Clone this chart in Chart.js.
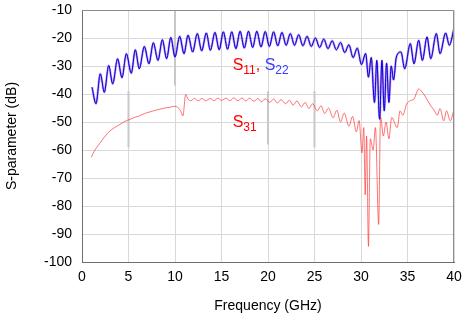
<!DOCTYPE html>
<html>
<head>
<meta charset="utf-8">
<script src="https://cdn.jsdelivr.net/npm/chart.js@4"></script>
<style>
  html, body { margin: 0; padding: 0; background: #fff; }
  #wrap { width: 470px; height: 319px; position: relative; }
</style>
</head>
<body>
<div id="wrap"><canvas id="chart"></canvas></div>
<script>
// ── Data ──────────────────────────────────────────────────────────
const xTicks = [0, 5, 10, 15, 20, 25, 30, 35, 40];
const yTicks = [-100, -90, -80, -70, -60, -50, -40, -30, -20, -10];

// S11 / S22 (reflection) — peaks and troughs, GHz / dB
const freqRefl = [
  1.08, 1.5, 1.97, 2.4, 2.87, 3.3, 3.83, 4.3, 4.77, 5.3, 5.73, 6.16, 6.7, 7.2, 7.67, 8.17,
  8.64, 9.1, 9.55, 10.0, 10.5, 10.97, 11.4, 11.9, 12.4, 12.87, 13.37, 13.8, 14.3, 14.75,
  15.2, 15.65, 16.1, 16.55, 17.0, 17.45, 17.9, 18.35, 18.8, 19.25, 19.7, 20.15, 20.6,
  21.05, 21.5, 21.95, 22.4, 22.85, 23.3, 23.75, 24.2, 24.65, 25.1, 25.55, 26.0, 26.45,
  26.9, 27.35, 27.8, 28.25, 28.7, 29.15, 29.6, 30.05, 30.5, 30.8, 31.1, 31.45, 31.7,
  32.0, 32.25, 32.5, 32.75, 33.0, 33.25, 33.5, 33.8, 34.3, 34.7, 35.3, 35.7, 36.2, 36.6,
  37.1, 37.5, 38.1, 38.5, 39.1, 39.5, 40.0
];
const s22 = [
  -37.6, -43.5, -32.8, -39.4, -29.8, -36.4, -27.4, -34.2, -25.6, -32.6, -24.2, -31.0, -23.0, -29.2, -21.7, -28.0,
  -20.6, -27.4, -19.8, -26.8, -19.4, -25.6, -19.0, -25.0, -18.4, -24.6, -18.2, -24.4, -18.0, -24.2,
  -17.8, -24.0, -17.8, -23.8, -17.6, -23.6, -17.6, -23.4, -17.6, -23.2, -17.7, -23.0, -17.8,
  -22.8, -18.0, -22.6, -18.4, -22.6, -18.8, -22.8, -19.4, -23.0, -20.0, -23.4, -20.4, -23.8,
  -21.0, -24.2, -21.6, -25.2, -22.4, -27.0, -23.6, -29.5, -25.5, -34.0, -27.0, -43.0, -28.0,
  -49.0, -28.0, -46.0, -29.0, -43.0, -30.0, -35.0, -26.8, -25.0, -31.0, -22.0, -29.2, -20.8, -28.0,
  -19.6, -27.4, -18.4, -25.6, -18.2, -22.6, -16.6
];
const s11 = s22;

// S31 (transmission)
const freqS31 = [
  1.0, 1.3, 1.6, 1.94, 2.5, 3.0, 3.5, 4.1, 4.6, 5.2, 5.7, 6.2, 6.7, 7.3, 7.8, 8.4, 8.9, 9.5, 9.9,
  10.3, 10.6, 10.85, 11.15, 11.4, 11.7, 12.1, 12.5, 12.9, 13.3, 13.8, 14.2, 14.6, 15.0, 15.5,
  15.9, 16.3, 16.8, 17.2, 17.6, 18.0, 18.5, 18.9, 19.3, 19.7, 20.2, 20.6, 21.0, 21.4, 21.9,
  22.3, 22.7, 23.1, 23.6, 24.0, 24.4, 24.8, 25.3, 25.7, 26.1, 26.5, 27.0, 27.4, 27.8, 28.2,
  28.7, 29.1, 29.5, 29.8, 30.1, 30.3, 30.45, 30.6, 30.8, 31.0, 31.3, 31.55, 31.9, 32.1, 32.4,
  32.7, 33.0, 33.3, 33.9, 34.2, 34.5, 34.9, 35.3, 35.7, 36.2, 36.6, 37.0, 37.5, 37.9, 38.2,
  38.5, 38.9, 39.2, 39.6, 40.0
];
const s31 = [
  -62.6, -60.5, -59.0, -57.5, -55.0, -53.2, -52.0, -50.8, -49.8, -49.0, -48.3, -47.8, -47.0, -46.4, -45.9, -45.4, -45.0, -44.7, -44.4,
  -44.8, -46.0, -47.8, -40.2, -41.8, -42.4, -41.6, -42.4, -41.6, -42.4, -41.6, -42.4, -41.5, -42.3, -41.5,
  -42.4, -41.4, -42.4, -41.4, -42.5, -41.5, -42.6, -41.6, -42.8, -41.7, -43.0, -41.8, -43.2, -42.0, -43.5,
  -42.2, -44.0, -42.5, -44.6, -43.0, -45.2, -43.5, -46.0, -44.2, -47.0, -45.0, -48.5, -45.8, -50.0, -46.8,
  -51.5, -48.0, -53.5, -49.5, -61.0, -52.0, -76.0, -55.0, -94.4, -56.0, -60.0, -52.0, -86.6, -48.0, -55.0,
  -50.0, -56.0, -48.4, -52.0, -46.0, -47.6, -43.6, -42.4, -41.8, -38.2, -39.4, -41.4, -44.2, -46.0, -47.6,
  -45.2, -49.6, -46.0, -49.6, -45.4
];

// stray grey rules in the original plot (x, top, bottom)
const ruleX   = [5, 10, 20, 25, 40];
const ruleTop = [-39, -10, -39, -39, -39];
const ruleBot = [-59, -37, -58, -59, -59];

const toPts = (xs, ys) => xs.map((x, i) => ({ x, y: ys[i] }));
const rulePts = [];
ruleX.forEach((x, i) => {
  rulePts.push({ x, y: ruleTop[i] }, { x, y: ruleBot[i] }, { x, y: null });
});

// ── Labels drawn inside the plot ──────────────────────────────────
const curveLabels = [
  { x: 16.2, y: -29.8, parts: [['S', '#ff0000', false], ['11', '#ff0000', true], [', ', '#ff0000', false], ['S', '#3b3bff', false], ['22', '#3b3bff', true]] },
  { x: 16.2, y: -50.3, parts: [['S', '#ff0000', false], ['31', '#ff0000', true]] },
];

const labelPlugin = {
  id: 'curveLabels',
  afterDatasetsDraw(chart) {
    const { ctx, scales } = chart;
    ctx.save();
    ctx.textBaseline = 'middle';
    curveLabels.forEach(l => {
      let px = scales.x.getPixelForValue(l.x);
      const py = scales.y.getPixelForValue(l.y);
      l.parts.forEach(([txt, col, sub]) => {
        ctx.font = sub ? '12px "Liberation Sans"' : '16px "Liberation Sans"';
        ctx.fillStyle = col;
        ctx.fillText(txt, px, sub ? py + 5 : py);
        px += ctx.measureText(txt).width;
      });
    });
    ctx.restore();
  },
};

const tickFont = { family: 'Liberation Sans', size: 14 };

new Chart(document.getElementById('chart'), {
  type: 'line',
  data: {
    datasets: [
      {
        label: 'rules',
        data: rulePts,
        borderColor: '#c8c8c8',
        borderWidth: 2,
        pointRadius: 0,
        spanGaps: false,
        order: 5,
      },
      {
        label: 'S31',
        data: toPts(freqS31, s31),
        borderColor: 'rgba(255,40,40,0.65)',
        borderWidth: 1,
        pointRadius: 0,
        cubicInterpolationMode: 'monotone',
        order: 4,
      },
      {
        label: 'S22 band',
        data: toPts(freqRefl, s22),
        borderColor: 'rgba(120,120,240,0.5)',
        borderWidth: 2.5,
        pointRadius: 0,
        cubicInterpolationMode: 'monotone',
        order: 3,
      },
      {
        label: 'S11',
        data: toPts(freqRefl, s11),
        borderColor: 'rgba(255,0,0,0.5)',
        borderWidth: 1,
        pointRadius: 0,
        cubicInterpolationMode: 'monotone',
        order: 2,
      },
      {
        label: 'S22',
        data: toPts(freqRefl, s22),
        borderColor: '#0000ff',
        borderWidth: 1,
        pointRadius: 0,
        cubicInterpolationMode: 'monotone',
        order: 1,
      },
    ],
  },
  options: {
    responsive: true,
    maintainAspectRatio: false,
    animation: false,
    layout: { padding: { top: 10, right: 16, left: 0, bottom: 0 } },
    plugins: { legend: { display: false }, tooltip: { enabled: false } },
    scales: {
      x: {
        type: 'linear',
        min: 0, max: 40,
        afterBuildTicks: s => { s.ticks = xTicks.map(v => ({ value: v })); },
        afterFit: s => { s.height = 57; s.paddingLeft = 0; s.paddingRight = 0; },
        grid: { color: '#d9d9d9', drawTicks: false },
        border: { color: '#6e6e6e', width: 1 },
        ticks: { color: '#000', font: tickFont, padding: 7, maxRotation: 0 },
        title: { display: true, text: 'Frequency (GHz)', color: '#000', font: tickFont, padding: { top: 5 } },
      },
      y: {
        type: 'linear',
        min: -100, max: -10,
        afterBuildTicks: s => { s.ticks = yTicks.map(v => ({ value: v })); },
        afterFit: s => { s.width = 82; s.paddingTop = 0; s.paddingBottom = 0; },
        grid: { color: '#d9d9d9', drawTicks: false },
        border: { color: '#6e6e6e', width: 1 },
        ticks: { color: '#000', font: tickFont, padding: 10 },
        title: { display: true, text: 'S-parameter (dB)', color: '#000', font: tickFont, padding: { bottom: 4 } },
      },
    },
  },
  plugins: [labelPlugin, {
    id: 'frame',
    afterDraw(chart) {
      const { ctx, chartArea: a } = chart;
      ctx.save();
      ctx.strokeStyle = '#8c8c8c';
      ctx.lineWidth = 1;
      ctx.beginPath();
      ctx.moveTo(a.left, a.top + 0.5);
      ctx.lineTo(a.right - 0.5, a.top + 0.5);
      ctx.lineTo(a.right - 0.5, a.bottom);
      ctx.stroke();
      ctx.restore();
    },
  }],
});
</script>
</body>
</html>
